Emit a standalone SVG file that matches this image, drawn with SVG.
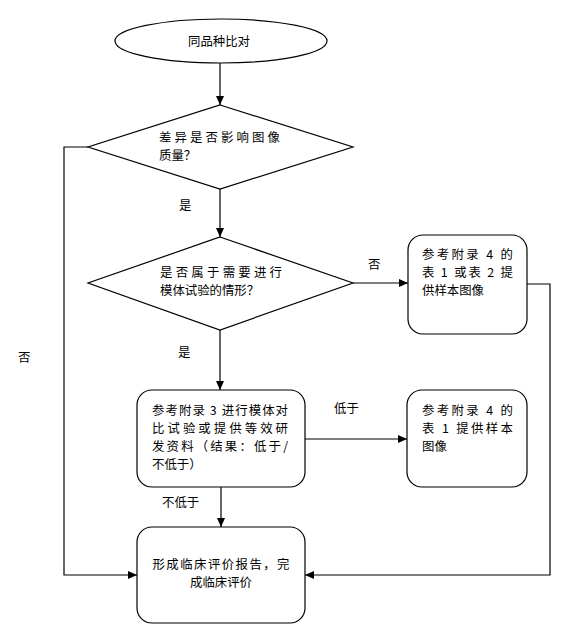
<svg xmlns="http://www.w3.org/2000/svg" width="572" height="634" viewBox="0 0 572 634">
<style>
.s{fill:#fff;stroke:#000;stroke-width:1.2}
.c{fill:none;stroke:#000;stroke-width:1.2;marker-end:url(#a)}
text{font-family:"Noto Sans CJK SC","Noto Sans",sans-serif;font-size:12.4px;fill:#000}
</style>
<defs>
<marker id="a" markerWidth="9" markerHeight="8" refX="9" refY="4" orient="auto" markerUnits="userSpaceOnUse">
<path d="M0,0 L9,4 L0,8 z" fill="#000"/>
</marker>
</defs>
<rect width="572" height="634" fill="#fff"/>
<g id="connectors">
<path class="c" d="M220,63 V105"/>
<path class="c" d="M220,189 V237"/>
<path class="c" d="M353,283 H408"/>
<path class="c" d="M220,330 V390"/>
<path class="c" d="M305,439 H407"/>
<path class="c" d="M221,487 V527"/>
<path class="c" d="M88,147 H64 V575 H137"/>
<path class="c" d="M527,284 H550 V575 H305"/>
<text x="179" y="210" font-size="13.5">是</text>
<text x="178" y="357" font-size="13.5">是</text>
<text x="368" y="269" font-size="13.5">否</text>
<text x="18" y="362" font-size="13.5">否</text>
<text x="334" y="413" font-size="13.5">低于</text>
<text x="162" y="507" font-size="13.5">不低于</text>
</g>
<g id="start">
<ellipse class="s" cx="221" cy="41" rx="106" ry="22"/>
<text x="219" y="46" text-anchor="middle" font-size="13.5">同品种比对</text>
</g>
<g id="d1">
<polygon class="s" points="220,105 353,147 220,189 88,147"/>
<text x="159" y="142" textLength="121" lengthAdjust="spacing">差异是否影响图像</text>
<text x="159" y="160">质量？</text>
</g>
<g id="d2">
<polygon class="s" points="220,237 353,283 220,330 88,283"/>
<text x="160" y="277" textLength="122" lengthAdjust="spacing">是否属于需要进行</text>
<text x="160" y="295">模体试验的情形？</text>
</g>
<g id="b1">
<rect class="s" x="408" y="235" width="119" height="99" rx="15"/>
<text x="422" y="259" textLength="91" lengthAdjust="spacing">参考附录 4 的</text>
<text x="422" y="277" textLength="91" lengthAdjust="spacing">表 1 或表 2 提</text>
<text x="422" y="295">供样本图像</text>
</g>
<g id="b2">
<rect class="s" x="137" y="390" width="168" height="97" rx="15"/>
<text x="152" y="415" textLength="136" lengthAdjust="spacing">参考附录 3 进行模体对</text>
<text x="152" y="433" textLength="136" lengthAdjust="spacing">比试验或提供等效研</text>
<text x="152" y="451" textLength="136" lengthAdjust="spacing">发资料（结果：低于/</text>
<text x="152" y="469">不低于）</text>
</g>
<g id="b3">
<rect class="s" x="407" y="390" width="120" height="97" rx="15"/>
<text x="422" y="415" textLength="91" lengthAdjust="spacing">参考附录 4 的</text>
<text x="422" y="433" textLength="91" lengthAdjust="spacing">表 1 提供样本</text>
<text x="422" y="451">图像</text>
</g>
<g id="b4">
<rect class="s" x="137" y="527" width="168" height="96" rx="15"/>
<text x="221" y="569" text-anchor="middle" textLength="137" lengthAdjust="spacing">形成临床评价报告，完</text>
<text x="221" y="587" text-anchor="middle">成临床评价</text>
</g>
</svg>
